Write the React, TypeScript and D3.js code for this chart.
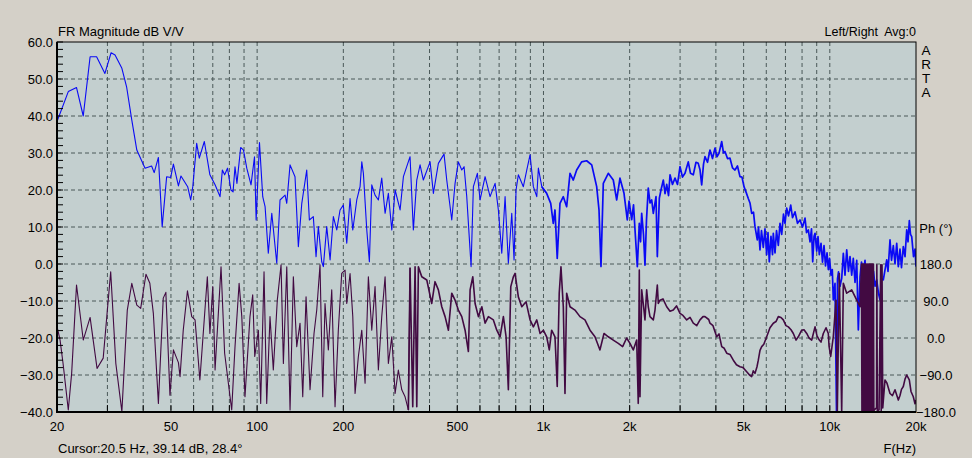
import React from 'react';
import * as d3 from 'd3';

// Magnitude response: [frequency Hz, dB]
const magnitude: [number, number][] = [
  [20,38.5],[21.9,46.6],[23.4,47.7],[24.7,40.0],[26.1,56.0],[27.5,56.0],[29.4,51.5],[30.9,57.1],[31.9,56.5],[33.7,52.9],[35.0,47.9],[36.5,38.9],[38.0,30.8],[40.6,25.9],[42.8,26.5],[43.7,24.7],[45.2,28.8],[46.6,10.1],[48.3,23.6],[49.9,23.4],[51.0,27.0],[53.1,21.1],[54.2,23.8],[57.2,20.9],[58.6,17.3],[59.6,20.9],[61.5,32.6],[62.8,28.6],[65.4,33.1],[68.4,24.1],[71.3,21.4],[74.2,18.2],[75.6,25.4],[77.0,24.1],[78.8,25.9],[81.0,20.0],[82.4,19.5],[83.7,26.3],[85.0,21.8],[87.6,31.5],[89.6,30.8],[92.0,25.9],[95.2,21.4],[97.9,29.0],[99.2,11.9],[101.9,32.8],[104.6,18.2],[106.6,15.5],[109.4,2.9],[112.5,13.7],[117.1,0.2],[120.2,17.3],[125.2,18.6],[126.9,16.4],[130.3,26.8],[135.6,23.6],[139.3,4.7],[143.2,16.4],[149.0,25.4],[152.2,11.9],[157.1,12.8],[160.6,2.0],[163.6,10.1],[168.1,0.6],[170.3,-0.7],[175.0,10.1],[179.8,1.1],[184.6,12.8],[189.7,9.2],[194.8,14.6],[200.0,15.9],[205.6,5.6],[211.1,17.7],[215.8,9.2],[222.8,17.3],[228.8,20.9],[232.0,27.6],[235.0,24.5],[241.5,9.2],[246.6,0.6],[251.4,21.4],[258.1,18.6],[265.1,17.3],[272.4,23.2],[279.8,13.7],[287.3,19.1],[295.3,9.2],[303.3,20.0],[315.7,14.6],[324.2,23.6],[342,29.0],[351.2,9.2],[361,22.7],[370.7,26.8],[380.6,22.7],[401.8,27.6],[412.6,19.1],[429.5,27.2],[449.5,29.7],[459.4,22.7],[478.3,11.9],[491.2,21.8],[504.4,27.6],[518.4,25.4],[528.1,26.3],[539.6,18.2],[558.7,-0.7],[569.1,20.9],[587.7,24.5],[600.6,17.3],[625.3,23.6],[650.9,18.2],[677.7,21.8],[695.8,14.6],[715.1,2.9],[734.4,18.2],[754,0.2],[774.9,13.7],[789.3,1.1],[802.1,20.0],[817,24.1],[850.6,20.9],[874.2,25.4],[897.7,29.5],[921.9,20.9],[947.5,18.2],[959.8,25.9],[986.5,20.9],
  [1026,19.1],[1060,16.4],[1082,11.0],[1097,14.6],[1117,1.5],[1142,16.4],[1173,18.2],[1205,15.5],[1238,24.5],[1271,22.7],[1306,25.4],[1359,27.6],[1415,27.9],[1474,26.8],[1534,20.9],[1563,14.6],[1588,-0.7],[1618,21.8],[1684,24.5],[1753,22.7],[1802,17.3],[1850,23.2],[1911,19.1],[1962,11.9],[1990,17],[2033,12],[2063,16],[2088,9.2],[2127,-0.7],[2161,11.0],[2183,6.0],[2203,13.7],[2235,8.0],[2262,-0.3],[2290,12],[2323,20.5],[2355,16.5],[2388,17.3],[2419,13.7],[2472,18.2],[2498,2.0],[2539,17.8],[2573,20],[2622,22.7],[2658,19],[2694,21.5],[2734,18.5],[2767,24.1],[2822,21.5],[2880,23.2],[2938,21.5],[2998,26.3],[3058,23.5],[3121,24.5],[3204,27.6],[3262,24.5],[3336,24.1],[3409,27.5],[3472,27.2],[3521,25.5],[3569,21.4],[3622,27],[3665,29.0],[3740,27.5],[3815,30.8],[3893,28.5],[3972,31.3],[4036,29],[4102,29.9],[4193,33.1],[4253,30],[4305,30.4],[4392,28.5],[4481,28.6],[4572,26],[4665,25.4],[4759,26.5],[4856,23.6],[4935,23.5],[5015,20.9],[5096,19.5],[5192,17.7],[5263,16.5],[5336,13.7],[5413,14],[5480,10.1],[5581,6.5],[5636,10],[5704,3.8],[5773,9],[5857,4.5],[5937,9.5],[6019,2.5],[6083,8.5],[6146,0.6],[6231,7.5],[6308,2.5],[6349,8.3],[6436,3],[6515,9],[6610,5],[6700,11],[6792,8],[6891,13.5],[6975,11],[7070,15.1],[7174,13],[7303,15.9],[7409,12.5],[7560,14.1],[7713,11],[7870,11.9],[8030,10],[8193,12.4],[8293,8.5],[8414,9.2],[8529,6],[8631,9.5],[8716,0.6],[8809,7.5],[8880,8.3],[9001,3.5],[9095,7.4],[9191,2.5],[9317,5.6],[9431,0.5],[9545,5],[9661,-0.5],[9779,3],[9881,-1.5],[9980,1.5],
  [10097,-3],[10202,-1.5],[10285,-9.7],[10428,-5.2],[10554,-40],[10638,-4],[10725,-2.1],[10855,-6],[11004,-3.9],[11149,2.9],[11300,-3],[11456,3.8],[11622,-2],[11765,2],[11926,-3],[12080,1.5],[12248,-5],[12417,1],[12578,-17.8],[12751,-3.4],[12904,0.5],[13092,-2],[13274,1],[13456,-9.7],[13653,-3],[13818,-1],[14009,-5.2],[14212,-2],[14385,-6],[14582,-4.3],[14795,-8],[14974,-9.7],[15155,-4],[15377,-4.3],[15803,1.1],[15968,-2],[16228,6.5],[16424,1],[16665,5],[16893,0],[17127,5.6],[17349,-0.7],[17586,4],[17798,-1],[18058,4.7],[18309,2],[18560,9.2],[18757,6],[18953,11.7],[19137,8],[19322,7.4],[19603,2],[19840,4],[20000,-0.7],
];

// Phase response: [frequency Hz, degrees]
const phase: [number, number][] = [
  [20,28],[20.5,-5],[21.0,-62],[21.9,-175],[22.5,-86],[23.4,129],[24.7,-5],[26.1,50],[27.6,-74],[29.0,-49],[30.8,161],[32.1,-62],[33.7,-179],[35.2,68],[36.5,133],[38.0,80],[39.2,72],[40.9,155],[42.2,133],[43.4,60],[45.2,-159],[47.0,97],[48.0,111],[49.6,-139],[51.0,-29],[53.1,-60],[53.8,-94],[55.2,19],[57.1,115],[59.1,52],[60.7,44],[63.1,-102],[67.0,149],[68.4,11],[70.0,125],[71.3,-78],[74.8,173],[77.0,-37],[81.5,-175],[83.7,-21],[86.5,133],[88.4,52],[90.7,-143],[94.4,52],[96.5,105],[98.1,-45],
  [101.0,19],[102.9,-159],[105.7,161],[108.0,-159],[110.9,52],[113.9,-78],[117.6,92],[121.2,178],[123.5,-62],[126.9,173],[130.3,-175],[133.8,149],[137.5,-21],[141.2,36],[144.3,-143],[148.2,100],[153.0,-126],[158.0,11],[161.5,68],[165.8,178],[169.5,-143],[172.6,84],[177.3,-29],[182.2,117],[187.1,-167],[192.1,19],[197.4,157],[202.8,165],[205.6,84],[211.1,157],[215.8,52],[219.8,-135],[225.7,-45],[232.0,19],[238.2,-110],[244.6,149],[251.4,19],[258.1,125],[265.1,-78],[272.4,52],[279.8,149],[287.3,-62],[295.3,3],[303.3,-135],[311.3,-78],[320.0,-126],[328.6,-143],[337.4,-175],[342.0,170],[349.5,-167],[356.1,173],[361.0,-167],[365.7,173],[375.8,149],[391.3,141],[407.2,84],[418.1,137],[429.5,117],[441.4,76],[453.3,52],[465.6,19],[478.3,109],[491.2,92],[504.4,68],[518.4,52],[532.4,19],[546.7,-33],[554.3,117],[566.5,149],[577.0,84],[592.6,52],[609.1,76],[625.3,36],[642.2,52],[668.4,44],[687.0,19],[705.5,3],[724.4,52],[740.3,3],[754.0,-126],[768.8,125],[785.0,149],[795.8,157],[817.0,100],[840.0,76],[869.4,88],[897.7,44],[921.9,27],[947.5,44],[973.2,11],[999,19],
  [1026,3],[1048,-29],[1068,19],[1097,3],[1117,-118],[1135,109],[1151,173],[1173,76],[1189,-135],[1205,109],[1238,76],[1288,68],[1341,52],[1396,44],[1454,19],[1513,3],[1575,-29],[1627,11],[1684,3],[1753,-5],[1825,-13],[1890,-21],[1952,0],[2005,-13],[2059,-29],[2116,-5],[2143,-159],[2161,165],[2173,-143],[2203,117],[2231,84],[2262,44],[2293,117],[2323,76],[2355,52],[2419,44],[2452,68],[2498,129],[2518,84],[2552,92],[2614,95],[2694,76],[2767,65],[2840,68],[2915,78],[2998,60],[3070,55],[3164,44],[3250,50],[3336,36],[3430,30],[3521,44],[3607,52],[3665,52],[3777,45],[3815,36],[3909,30],[4027,3],[4102,10],[4193,-21],[4278,-25],[4365,-37],[4481,-40],[4603,-54],[4721,-65],[4856,-70],[4976,-72],[5126,-82],[5243,-90],[5336,-94],[5403,-80],[5480,-86],[5568,-70],[5627,-54],[5704,-30],[5783,-21],[5882,-15],[6019,3],[6181,25],[6349,36],[6487,40],[6610,52],[6754,50],[6880,44],[7031,30],[7163,27],[7321,20],[7458,11],[7621,-5],[7762,3],[7977,19],[8128,20],[8306,11],[8463,0],[8647,-5],[8880,27],[9023,5],[9191,-5],[9317,-10],[9491,11],[9701,25],[9881,11],[9940,-20],
  [10072,-45],[10285,3],[10512,92],[10622,-180],[10794,157],[11004,-180],[11149,133],[11456,109],[11926,117],[12417,92],[12751,76],
  [12900,180],[12950,-180],[13000,180],[13050,-180],[13100,180],[13150,-180],[13200,180],[13250,-180],[13300,180],[13350,-180],[13400,180],[13450,-180],[13500,180],[13550,-180],[13600,180],[13650,-180],[13700,180],[13750,-180],[13800,180],[13850,-180],[13900,180],[13950,-180],[14000,180],[14050,-180],[14100,180],[14150,-180],[14200,180],[14250,-180],
  [14290,-175],[14560,-170],[14597,178],[14655,-178],[14858,-175],[15061,178],[15121,-178],[15219,178],[15307,-170],[15586,-102],[15840,-110],[16228,-135],[16557,-140],[16893,-126],[17349,-151],[17586,-140],[17798,-125],[18058,-118],[18309,-100],[18560,-90],[18953,-102],[19212,-130],[19571,-143],[19840,-160],[20000,-151],
];

const dbTicks = [60, 50, 40, 30, 20, 10, 0, -10, -20, -30, -40];
const dbMinorTicks = [58,56,54,52,48,46,44,42,38,36,34,32,28,26,24,22,18,16,14,12,8,6,4,2,-2,-4,-6,-8,-12,-14,-16,-18,-22,-24,-26,-28,-32,-34,-36,-38];
const phaseTicks = [180, 90, 0, -90, -180];
const freqLabels = [20, 50, 100, 200, 500, 1000, 2000, 5000, 10000, 20000];
const freqGrid = [30, 40, 50, 60, 70, 80, 90, 100, 200, 300, 400, 500, 600, 700, 800, 900, 1000, 2000, 3000, 4000, 5000, 6000, 7000, 8000, 9000, 10000];
const titleText = 'FR Magnitude dB V/V';
const channelText = 'Left/Right\u00a0 Avg:0';
const brandLetters = ['A', 'R', 'T', 'A'];
const cursorText = 'Cursor:20.5 Hz, 39.14 dB, 28.4\u00b0';

export default function App() {
  const W = 972, H = 458;
  const L = 57, R = 916, T = 42, B = 412;
  const x = d3.scaleLog().domain([20, 20000]).range([L, R]);
  const y = d3.scaleLinear().domain([-40, 60]).range([B, T]);
  const yp = d3.scaleLinear().domain([-180, 180]).range([B, y(0)]);
  const magLine = d3.line<[number, number]>().x(d => x(d[0])).y(d => y(d[1]));
  const phLine = d3.line<[number, number]>().x(d => x(d[0])).y(d => yp(d[1]));
  const fmtF = (f: number) => (f >= 1000 ? `${f / 1000}k` : `${f}`);
  const font = '"Liberation Sans", Arial, sans-serif';
  const fs = 13;
  const blue = '#0a0af5';
  const purple = '#420a42';
  // sparse low-frequency parts drawn thin, dense high-frequency parts heavier
  const magLow = magnitude.filter(d => d[0] <= 1026);
  const magHigh = magnitude.filter(d => d[0] >= 986.5);
  const phLow = phase.filter(d => d[0] <= 342);
  const phHigh = phase.filter(d => d[0] >= 337.4);

  return (
    <svg width={W} height={H} style={{ position: 'absolute', left: 0, top: 0, display: 'block' }} fontFamily={font}>
      <rect x={0} y={0} width={W} height={H} fill="#d4d0c8" />
      <defs>
        <clipPath id="plotClip"><rect x={L} y={T} width={R - L} height={B - T} /></clipPath>
      </defs>
      <rect x={L} y={T} width={R - L} height={B - T} fill="#c3cfcf" />
      {dbTicks.filter(v => v > -40 && v < 60).map(v => (
        <line key={'hg' + v} x1={L} x2={R} y1={y(v)} y2={y(v)} stroke="#4a5858" strokeDasharray="4,3" strokeWidth={1} />
      ))}
      {freqGrid.map(f => (
        <line key={'vg' + f} x1={x(f)} x2={x(f)} y1={T} y2={B} stroke="#4a5858" strokeDasharray="4,3" strokeWidth={1} />
      ))}
      <g clipPath="url(#plotClip)" fill="none" strokeLinejoin="round">
        <path d={magLine(magLow) || ''} stroke={blue} strokeWidth={1.1} />
        <path d={magLine(magHigh) || ''} stroke={blue} strokeWidth={1.7} />
        <path d={phLine(phLow) || ''} stroke={purple} strokeWidth={1.1} />
        <path d={phLine(phHigh) || ''} stroke={purple} strokeWidth={1.6} />
      </g>
      <rect x={L} y={T} width={R - L} height={B - T} fill="none" stroke="#000" strokeWidth={1} />
      <line x1={L} x2={L} y1={T} y2={B + 1} stroke="#000" strokeWidth={2} />
      <line x1={L - 1} x2={R} y1={B} y2={B} stroke="#000" strokeWidth={2} />
      {dbTicks.concat(dbMinorTicks).map(v => (
        <line key={'lt' + v} x1={L} x2={L + 6} y1={y(v)} y2={y(v)} stroke="#000" strokeWidth={1} />
      ))}
      {freqGrid.map(f => (
        <line key={'bt' + f} x1={x(f)} x2={x(f)} y1={B} y2={B - 7} stroke="#000" strokeWidth={1} />
      ))}
      {dbTicks.map(v => (
        <text key={'ll' + v} x={L - 4} y={y(v)} dy="0.35em" textAnchor="end" fontSize={fs} fill="#000">{d3.format('.1f')(v)}</text>
      ))}
      {phaseTicks.map(v => (
        <text key={'pl' + v} x={936} y={yp(v)} dy="0.35em" textAnchor="middle" fontSize={fs} fill="#000">{d3.format('.1f')(v)}</text>
      ))}
      <text x={936} y={228} dy="0.35em" textAnchor="middle" fontSize={fs} fill="#000">Ph (°)</text>
      {freqLabels.map(f => (
        <text key={'fl' + f} x={x(f)} y={426} dy="0.35em" textAnchor="middle" fontSize={fs} fill="#000">{fmtF(f)}</text>
      ))}
      <text x={R} y={448} dy="0.35em" textAnchor="end" fontSize={fs} fill="#000">F(Hz)</text>
      <text x={58} y={448} dy="0.35em" textAnchor="start" fontSize={fs} fill="#000">{cursorText}</text>
      <text x={58} y={31} dy="0.35em" textAnchor="start" fontSize={fs} fill="#000">{titleText}</text>
      <text x={R} y={32} dy="0.35em" textAnchor="end" fontSize={12.5} fill="#000">{channelText}</text>
      {brandLetters.map((c, i) => (
        <text key={'br' + i} x={926} y={50 + i * 14} dy="0.35em" textAnchor="middle" fontSize={13.5} fill="#000">{c}</text>
      ))}
    </svg>
  );
}
